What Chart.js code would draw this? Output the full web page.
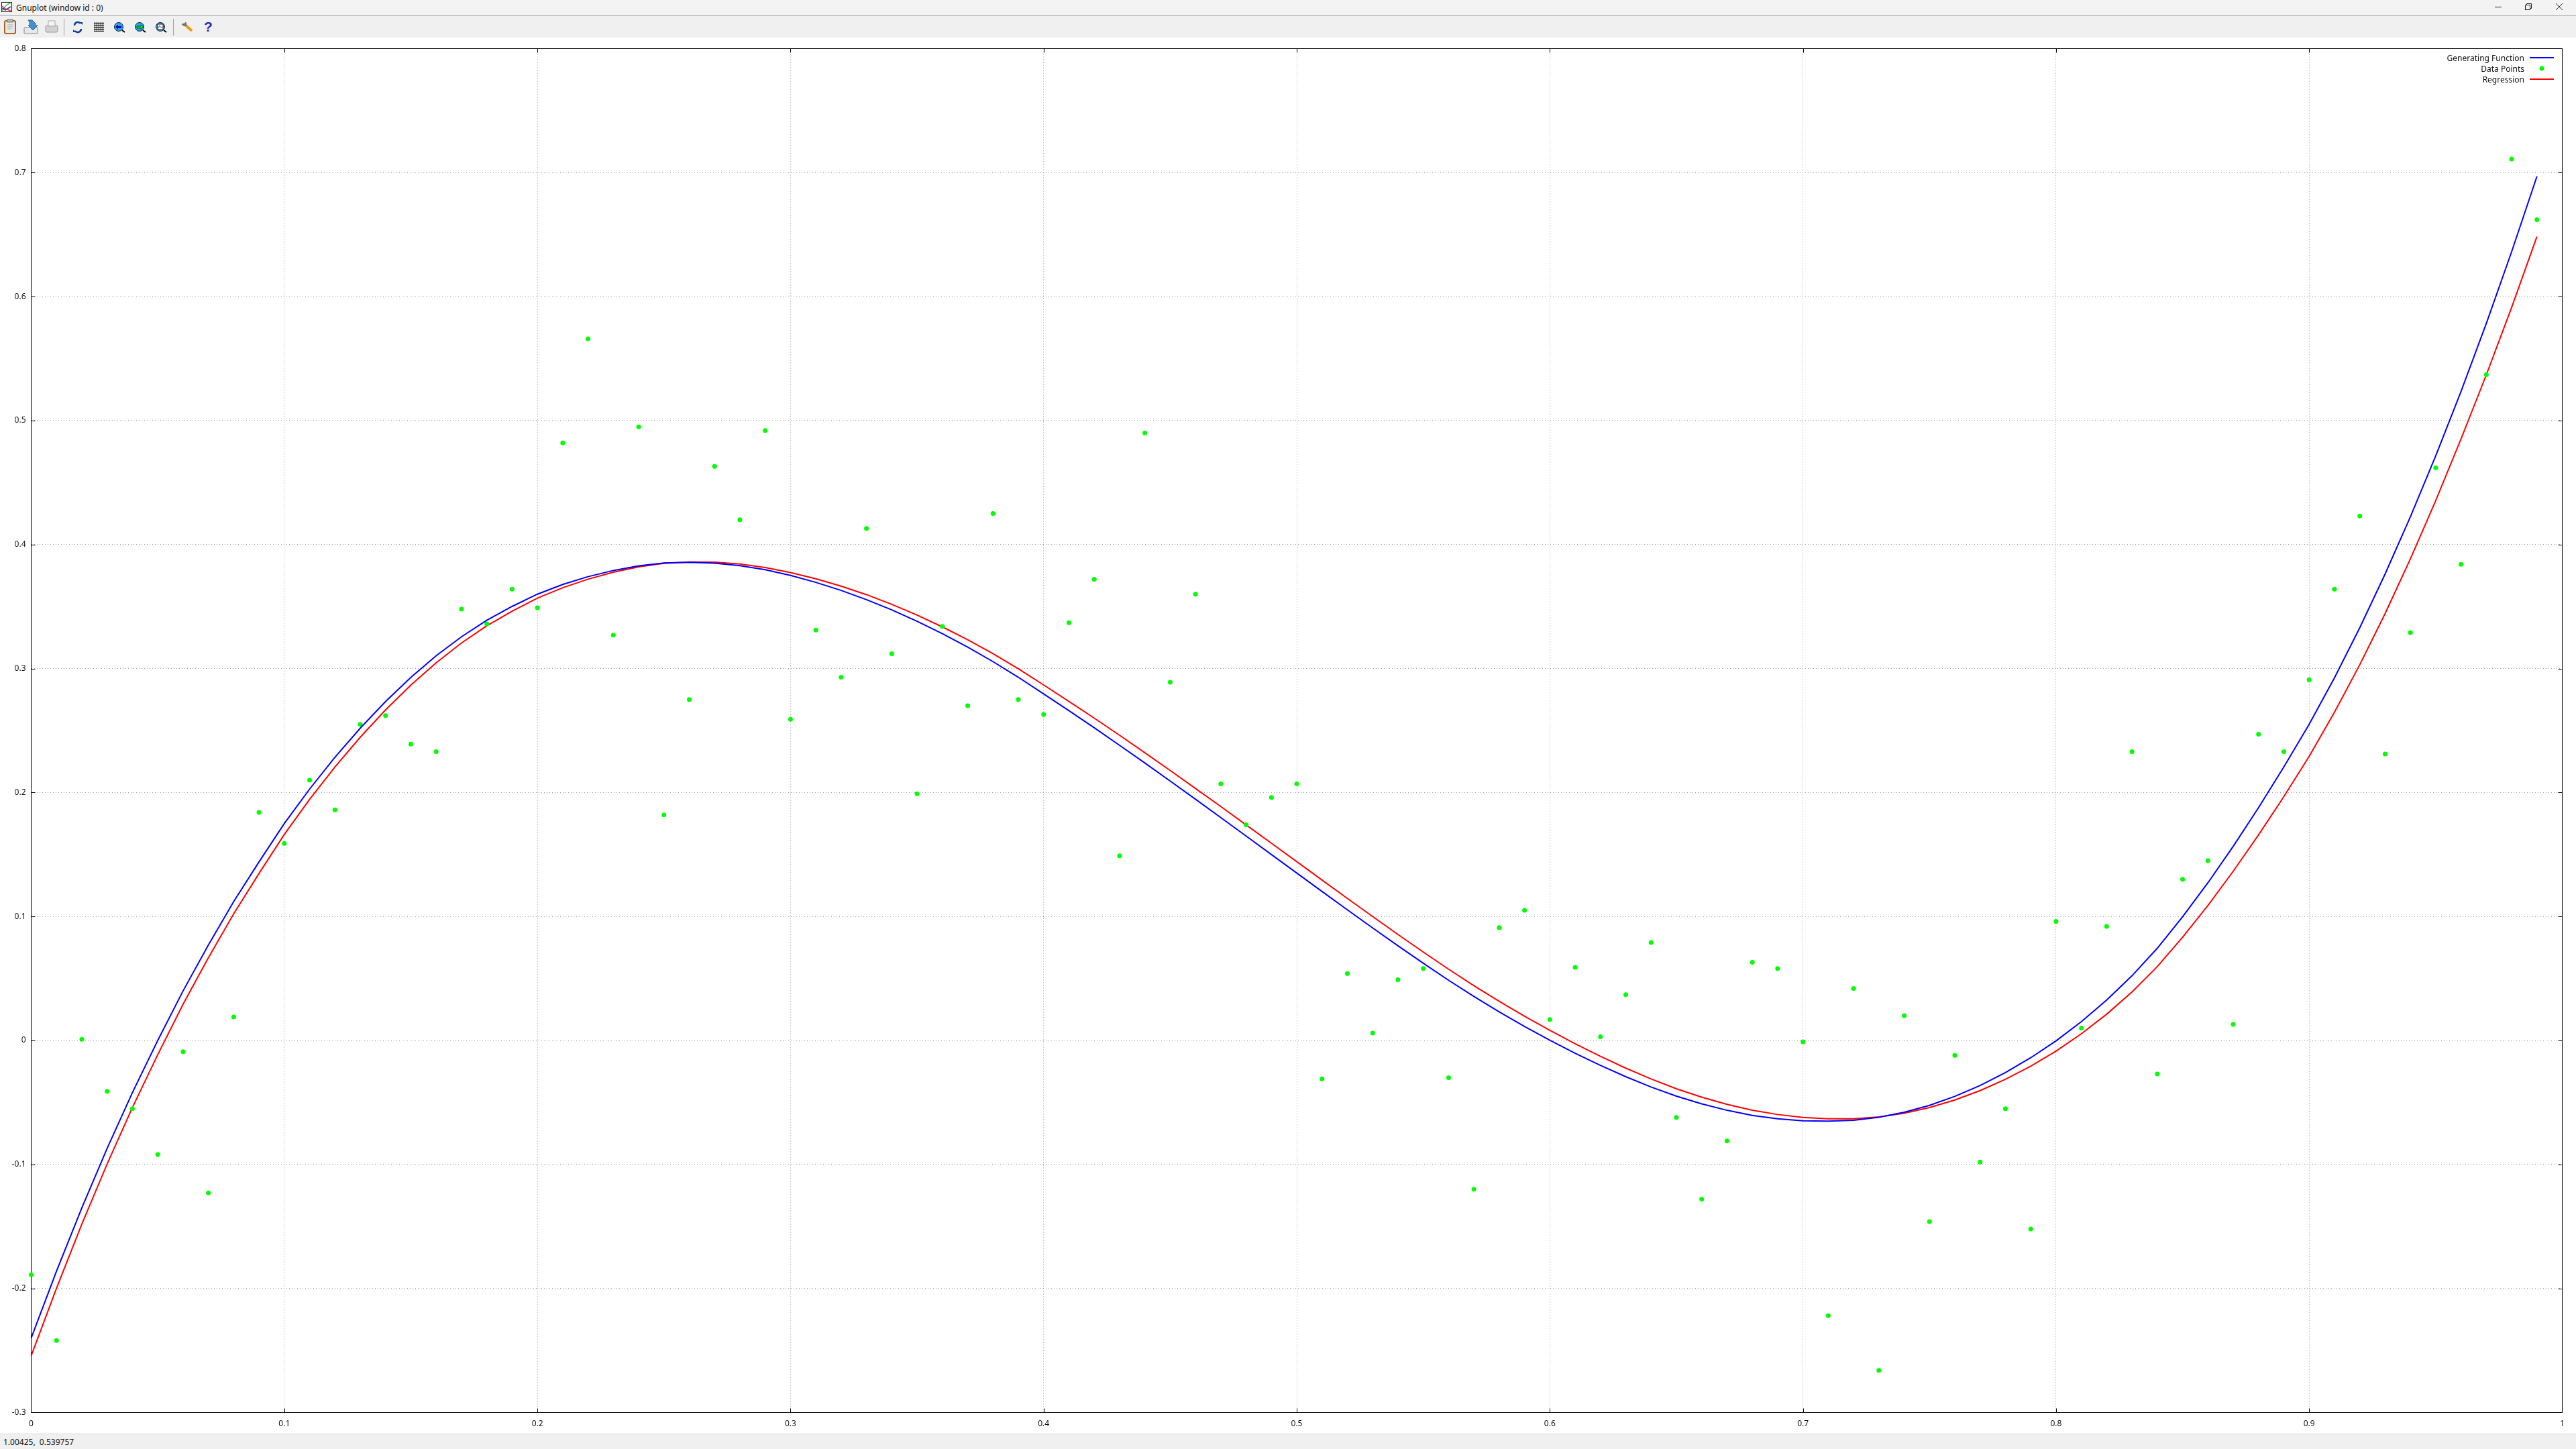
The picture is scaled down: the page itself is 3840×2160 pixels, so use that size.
<!DOCTYPE html>
<html>
<head>
<meta charset="utf-8">
<title>Gnuplot (window id : 0)</title>
<script src="https://cdn.jsdelivr.net/npm/chart.js@4/dist/chart.umd.min.js"></script>
<style>
  html, body { margin: 0; padding: 0; background: #fff; overflow: hidden; }
  body { width: 3840px; height: 2160px; position: relative; font-family: "Noto Sans", sans-serif; font-size: 12px; color: #111; }
  #titlebar { position: absolute; left: 0; top: 0; width: 3840px; height: 23px; background: #f3f3f3; border-bottom: 1px solid #a8a8a8; }
  #toolbar { position: absolute; left: 0; top: 24px; width: 3840px; height: 32px; background: #f0f0f0; }
  #statusbar { position: absolute; left: 0; top: 2137px; width: 3840px; height: 23px; background: #f0f0f0; border-top: 1px solid #d8d8d8; box-sizing: border-box; }
  #titletext { position: absolute; left: 24px; top: 3px; line-height: 17px; }
  #statustext { position: absolute; left: 5px; top: 3px; line-height: 17px; white-space: pre; }
  svg { position: absolute; left: 0; top: 0; }
  #wrap { position: absolute; left: 0; top: 0; width: 3840px; height: 2160px; }
</style>
</head>
<body>
<div id="titlebar"><span id="titletext">Gnuplot (window id : 0)</span></div>
<div id="toolbar"></div>
<div id="statusbar"><span id="statustext">1.00425,  0.539757</span></div>
<svg width="3840" height="60" fill="none">
  <!-- window icon -->
  <rect x="2.5" y="3.5" width="15" height="14" fill="#fff" stroke="#222"/>
  <path d="M3 16L9 8L16 4" stroke="#3c3" stroke-width="1.5"/><path d="M3 12L8 15L16 10" stroke="#33d" stroke-width="1.5"/><path d="M3 9L8 13L16 16" stroke="#e33" stroke-width="1.5"/>
  <!-- clipboard -->
  <rect x="7" y="31" width="16" height="19" rx="2" fill="#e8e8e8" stroke="#a5691f" stroke-width="2"/>
  <rect x="11" y="29" width="8" height="4" fill="#bbb" stroke="#777"/>
  <path d="M11 37h8M11 40h8M11 43h6" stroke="#aaa"/>
  <!-- save -->
  <rect x="36" y="41" width="20" height="9" rx="1" fill="#e6e9ec" stroke="#7b8c99"/>
  <path d="M42 30h6l5 5v3h3l-7 7l-7-7h2v-5z" fill="#4a8fc9" stroke="#2d6a9e"/>
  <!-- print -->
  <rect x="68" y="38" width="18" height="10" rx="2" fill="#cfd2d4" stroke="#9a9a9a"/>
  <rect x="72" y="31" width="10" height="8" fill="#f4f4f4" stroke="#aaa"/>
  <!-- separators -->
  <path d="M95.5 28v25M258.5 28v25" stroke="#a0a0a0"/>
  <!-- refresh -->
  <path d="M111 38a5 5 0 0 1 9-3" stroke="#0a3fa8" stroke-width="2.5"/><path d="M118 33h5v4z" fill="#0a3fa8"/>
  <path d="M121 43a5 5 0 0 1-9 3" stroke="#0a3fa8" stroke-width="2.5"/><path d="M114 48h-5v-4z" fill="#0a3fa8"/>
  <!-- grid -->
  <path d="M141.5 33v14M144.5 33v14M147.5 33v14M150.5 33v14M153.5 33v14M140 34.5h15M140 37.5h15M140 40.5h15M140 43.5h15M140 46.5h15" stroke="#000"/>
  <!-- zoom icons -->
  <circle cx="177" cy="40" r="6.5" fill="#29a3e8" stroke="#123"/><path d="M182 45l4 3" stroke="#000" stroke-width="2"/><path d="M172 40l4-3v2h5v3h-5v2z" fill="#0000c0"/>
  <circle cx="208" cy="40" r="6.5" fill="#29a3e8" stroke="#123"/><path d="M213 45l4 3" stroke="#000" stroke-width="2"/><path d="M214 40l-4-3v2h-6v3h6v2z" fill="#10e010" stroke="#063"/>
  <circle cx="239" cy="40" r="6.5" fill="#29a3e8" stroke="#123"/><path d="M244 45l4 3" stroke="#000" stroke-width="2"/><rect x="235" y="36" width="8" height="8" fill="#fff" stroke="#123"/><path d="M236 42l2-4l2 3l2-1" stroke="#e22"/>
  <!-- wrench -->
  <path d="M275 36l11 10" stroke="#e8a010" stroke-width="4"/><path d="M271 36a5 5 0 0 0 7 2l-1-5l-2 2z" fill="#777" stroke="#777"/>
  <!-- help -->
  <text x="304" y="47" font-family="Liberation Sans" font-weight="bold" font-size="21" fill="#2a2ab0">?</text>
  <!-- window controls -->
  <path d="M3719 10.5h10M3810 5l10 10M3820 5l-10 10" stroke="#222"/>
  <rect x="3764.5" y="7.5" width="7" height="7" stroke="#222"/><path d="M3766.5 7.5v-2h7v7h-2" stroke="#222"/>
</svg>
<div id="wrap"><canvas id="myChart" width="3840" height="2160"></canvas></div>
<script>
const xTickValues = [0, 0.1, 0.2, 0.3, 0.4, 0.5, 0.6, 0.7, 0.8, 0.9, 1];
const yTickValues = [-0.3, -0.2, -0.1, 0, 0.1, 0.2, 0.3, 0.4, 0.5, 0.6, 0.7, 0.8];

const xValues = [
  0, 0.01, 0.02, 0.03, 0.04, 0.05, 0.06, 0.07, 0.08, 0.09,
  0.1, 0.11, 0.12, 0.13, 0.14, 0.15, 0.16, 0.17, 0.18, 0.19,
  0.2, 0.21, 0.22, 0.23, 0.24, 0.25, 0.26, 0.27, 0.28, 0.29,
  0.3, 0.31, 0.32, 0.33, 0.34, 0.35, 0.36, 0.37, 0.38, 0.39,
  0.4, 0.41, 0.42, 0.43, 0.44, 0.45, 0.46, 0.47, 0.48, 0.49,
  0.5, 0.51, 0.52, 0.53, 0.54, 0.55, 0.56, 0.57, 0.58, 0.59,
  0.6, 0.61, 0.62, 0.63, 0.64, 0.65, 0.66, 0.67, 0.68, 0.69,
  0.7, 0.71, 0.72, 0.73, 0.74, 0.75, 0.76, 0.77, 0.78, 0.79,
  0.8, 0.81, 0.82, 0.83, 0.84, 0.85, 0.86, 0.87, 0.88, 0.89,
  0.9, 0.91, 0.92, 0.93, 0.94, 0.95, 0.96, 0.97, 0.98, 0.99
];

const generatingFunction = [
  -0.24, -0.186, -0.135, -0.087, -0.042, 0, 0.04, 0.077, 0.112, 0.144,
  0.175, 0.2028, 0.2284, 0.2519, 0.2734, 0.2929, 0.3103, 0.3256, 0.3389, 0.3501,
  0.36, 0.3678, 0.3741, 0.3791, 0.3828, 0.3851, 0.3857, 0.385, 0.383, 0.3797,
  0.3751, 0.3695, 0.363, 0.3556, 0.3473, 0.3381, 0.3281, 0.3173, 0.3056, 0.293,
  0.2796, 0.266, 0.2522, 0.2381, 0.2238, 0.2093, 0.1946, 0.1798, 0.1649, 0.15,
  0.1351, 0.1202, 0.1054, 0.0908, 0.0764, 0.0623, 0.0486, 0.0355, 0.0231, 0.0113,
  0.0002, -0.0103, -0.0201, -0.0292, -0.0375, -0.0449, -0.0511, -0.0563, -0.0604, -0.0632,
  -0.0648, -0.0651, -0.0643, -0.0619, -0.0579, -0.0523, -0.0451, -0.0363, -0.0259, -0.0139,
  -0.0003, 0.0152, 0.0326, 0.0522, 0.0744, 0.0998, 0.1272, 0.1566, 0.1878, 0.2206,
  0.255, 0.2925, 0.3329, 0.3762, 0.4224, 0.4715, 0.5235, 0.5784, 0.6362, 0.6969
];

const dataPoints = [
  -0.189, -0.242, 0.001, -0.041, -0.055, -0.092, -0.009, -0.123, 0.019, 0.184,
  0.159, 0.21, 0.186, 0.255, 0.262, 0.239, 0.233, 0.348, 0.336, 0.364,
  0.349, 0.482, 0.566, 0.327, 0.495, 0.182, 0.275, 0.463, 0.42, 0.492,
  0.259, 0.331, 0.293, 0.413, 0.312, 0.199, 0.334, 0.27, 0.425, 0.275,
  0.263, 0.337, 0.372, 0.149, 0.49, 0.289, 0.36, 0.207, 0.174, 0.196,
  0.207, -0.031, 0.054, 0.006, 0.049, 0.058, -0.03, -0.12, 0.091, 0.105,
  0.017, 0.059, 0.003, 0.037, 0.079, -0.062, -0.128, -0.081, 0.063, 0.058,
  -0.001, -0.222, 0.042, -0.266, 0.02, -0.146, -0.012, -0.098, -0.055, -0.152,
  0.096, 0.01, 0.092, 0.233, -0.027, 0.13, 0.145, 0.013, 0.247, 0.233,
  0.291, 0.364, 0.423, 0.231, 0.329, 0.462, 0.384, 0.537, 0.711, 0.662
];

const regression = [
  -0.2544, -0.1998, -0.1482, -0.0996, -0.054, -0.0114, 0.0292, 0.0667, 0.1022, 0.1347,
  0.1662, 0.1945, 0.2206, 0.2446, 0.2666, 0.2867, 0.3047, 0.3206, 0.3345, 0.3463,
  0.3568, 0.3652, 0.3721, 0.3777, 0.382, 0.3849, 0.386, 0.3858, 0.3843, 0.3815,
  0.3774, 0.3724, 0.3665, 0.3596, 0.3518, 0.3431, 0.3336, 0.3233, 0.312, 0.2998,
  0.2868, 0.2735, 0.26, 0.2462, 0.2321, 0.2178, 0.2033, 0.1887, 0.1739, 0.1591,
  0.1443, 0.1294, 0.1146, 0.1, 0.0855, 0.0713, 0.0575, 0.0442, 0.0316, 0.0196,
  0.0082, -0.0026, -0.0128, -0.0223, -0.031, -0.0389, -0.0457, -0.0515, -0.0562, -0.0597,
  -0.062, -0.0631, -0.0632, -0.0617, -0.0587, -0.0541, -0.048, -0.0404, -0.0313, -0.0207,
  -0.0086, 0.0054, 0.0212, 0.0391, 0.0596, 0.0833, 0.1089, 0.1365, 0.1658, 0.1967,
  0.2292, 0.2647, 0.3031, 0.3443, 0.3884, 0.4354, 0.4852, 0.5369, 0.5912, 0.6484
];

const FONT = '12px "Noto Sans", sans-serif';
const TICK_LEN = 6;

function toXY(ys) {
  return xValues.map((x, i) => ({ x: x, y: ys[i] }));
}

// frame and inward ticks, gnuplot style
const framePlugin = {
  id: 'frame',
  beforeDatasetsDraw(chart) {
    const { ctx, chartArea: a, scales } = chart;
    ctx.save();
    ctx.strokeStyle = '#000';
    ctx.lineWidth = 1;
    ctx.strokeRect(a.left, a.top, a.right - a.left, a.bottom - a.top);
    ctx.beginPath();
    xTickValues.slice(1, -1).forEach(v => {
      const px = Math.round(scales.x.getPixelForValue(v)) + 0.5;
      ctx.moveTo(px, a.top); ctx.lineTo(px, a.top + TICK_LEN);
      ctx.moveTo(px, a.bottom); ctx.lineTo(px, a.bottom - TICK_LEN);
    });
    yTickValues.slice(1, -1).forEach(v => {
      const py = Math.round(scales.y.getPixelForValue(v)) + 0.5;
      ctx.moveTo(a.left, py); ctx.lineTo(a.left + TICK_LEN, py);
      ctx.moveTo(a.right, py); ctx.lineTo(a.right - TICK_LEN, py);
    });
    ctx.stroke();
    ctx.restore();
  }
};

// key in the top right corner, text right aligned
const keyPlugin = {
  id: 'key',
  afterDatasetsDraw(chart) {
    const { ctx } = chart;
    const textRight = 3763, x0 = 3771, x1 = 3807, rowY = [87, 103, 119];
    ctx.save();
    ctx.font = FONT;
    ctx.textAlign = 'right';
    ctx.textBaseline = 'middle';
    chart.data.datasets.forEach((ds, i) => {
      ctx.fillStyle = '#111';
      ctx.fillText(ds.label, textRight, rowY[i] + 1);
      if (ds.showLine) {
        ctx.strokeStyle = ds.borderColor;
        ctx.lineWidth = ds.borderWidth;
        ctx.beginPath();
        ctx.moveTo(x0, rowY[i] - 1);
        ctx.lineTo(x1, rowY[i] - 1);
        ctx.stroke();
      } else {
        ctx.fillStyle = ds.pointBackgroundColor;
        ctx.beginPath();
        ctx.arc((x0 + x1) / 2, rowY[i] - 1, ds.pointRadius, 0, Math.PI * 2);
        ctx.fill();
      }
    });
    ctx.restore();
  }
};

function fitScale(size) {
  return function (scale) {
    if (scale.axis === 'x') scale.height = size; else scale.width = size;
    scale.paddingLeft = scale.paddingRight = scale.paddingTop = scale.paddingBottom = 0;
  };
}

const gridStyle = {
  color: '#999999',
  lineWidth: 1,
  drawTicks: false
};

new Chart('myChart', {
  type: 'scatter',
  data: {
    datasets: [
      { label: 'Generating Function', data: toXY(generatingFunction), showLine: true, borderColor: '#0000ff', borderWidth: 2, pointRadius: 0, tension: 0, clip: false },
      { label: 'Data Points', data: toXY(dataPoints), showLine: false, pointRadius: 3.5, pointBackgroundColor: '#00ff00', pointBorderWidth: 0, clip: false },
      { label: 'Regression', data: toXY(regression), showLine: true, borderColor: '#ff0000', borderWidth: 2, pointRadius: 0, tension: 0, clip: false }
    ]
  },
  options: {
    responsive: false,
    animation: false,
    events: [],
    layout: { padding: { left: 0, top: 72.5, right: 20.5, bottom: 0 } },
    plugins: { legend: { display: false }, tooltip: { enabled: false } },
    scales: {
      x: {
        type: 'linear',
        min: 0,
        max: 1,
        afterBuildTicks(scale) { scale.ticks = xTickValues.map(v => ({ value: v })); },
        afterFit: fitScale(54.5),
        grid: gridStyle,
        border: { display: false, dash: [1, 3] },
        ticks: { autoSkip: false, maxRotation: 0, padding: 10, color: '#111', font: { family: '"Noto Sans", sans-serif', size: 12 }, callback: v => String(v) }
      },
      y: {
        type: 'linear',
        min: -0.3,
        max: 0.8,
        afterBuildTicks(scale) { scale.ticks = yTickValues.map(v => ({ value: v })); },
        afterFit: fitScale(46.5),
        grid: gridStyle,
        border: { display: false, dash: [1, 3] },
        ticks: { autoSkip: false, padding: 8, color: '#111', font: { family: '"Noto Sans", sans-serif', size: 12 }, callback: v => String(v) }
      }
    }
  },
  plugins: [framePlugin, keyPlugin]
});
</script>
</body>
</html>
